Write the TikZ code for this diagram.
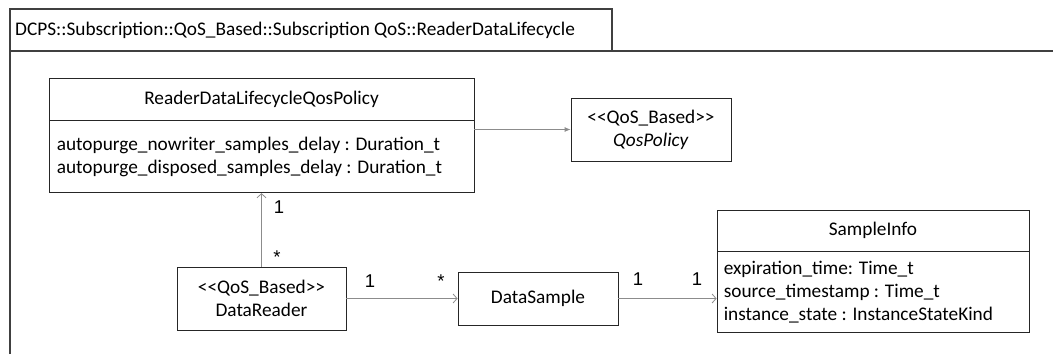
\documentclass[tikz,border=0pt]{standalone}
\usepackage{fontspec}
\setmainfont{Carlito}
\newfontfamily\multfont{Liberation Sans}
\usetikzlibrary{arrows.meta,positioning}

\tikzset{
  clase/.style={draw=black!85, line width=0.8pt, inner sep=0pt},
  texto/.style={font=\fontsize{19.3}{23}\selectfont, inner sep=0pt},
  asoc/.style={draw=black!45, line width=0.8pt, -{Straight Barb[length=4pt,width=9pt]}},
  herencia/.style={draw=black!45, line width=0.8pt, -{Latex[length=6pt,width=5pt]}},
  mult/.style={font=\multfont\fontsize{18.5}{20}\selectfont, inner sep=0pt, anchor=base},
}

\begin{document}
\begin{tikzpicture}[x=1pt,y=-1pt]
  \useasboundingbox (0,0) rectangle (1053,354);

  % Marco del paquete
  \draw[black!75, line width=1.2pt] (10,354) -- (10,9) -- (612,9) -- (612,51);
  \draw[black!75, line width=1.2pt] (10,51) -- (1053,51);
  \node[texto, anchor=west] (paquete) at (15,30) {DCPS::Subscription::QoS\_Based::Subscription QoS::ReaderDataLifecycle};

  % Politica ReaderDataLifecycleQosPolicy
  \node[clase, texto, minimum width=425pt, minimum height=42pt] (rdlcab) at (261.5,99) {ReaderDataLifecycleQosPolicy};
  \node[clase, minimum width=425pt, minimum height=72pt, below=0pt of rdlcab] (rdlcuerpo) {};
  \node[texto, align=left, anchor=west] (rdlattr) at ([xshift=8pt]rdlcuerpo.west)
    {autopurge\_nowriter\_samples\_delay : Duration\_t\\autopurge\_disposed\_samples\_delay : Duration\_t};

  % Clases QosPolicy, DataReader y DataSample
  \node[clase, texto, align=center, minimum width=160pt, minimum height=63pt] (qos) at (651,129.5)
    {<{}<QoS\_Based>{}>\\\textit{QosPolicy}};
  \node[clase, texto, align=center, minimum width=169pt, minimum height=63pt] (lector) at (261.5,298.5)
    {<{}<QoS\_Based>{}>\\DataReader};
  \node[clase, texto, minimum width=160pt, minimum height=53pt] (muestra) at (538,298.5) {DataSample};

  % SampleInfo
  \node[clase, texto, minimum width=312pt, minimum height=41pt] (infocab) at (873,230.5) {SampleInfo};
  \node[clase, minimum width=312pt, minimum height=81pt, below=0pt of infocab] (infocuerpo) {};
  \node[texto, align=left, anchor=west] (infoattr) at ([xshift=7pt]infocuerpo.west)
    {expiration\_time: Time\_t\\source\_timestamp : Time\_t\\instance\_state : InstanceStateKind};

  % Relaciones
  \draw[herencia] (rdlcuerpo.east |- qos.west) -- (qos.west);
  \draw[asoc] (lector.north) -- (lector.north |- rdlcuerpo.south);
  \draw[asoc] (lector.east) -- (muestra.west);
  \draw[asoc] (muestra.east) -- (muestra.east -| infocuerpo.west);

  % Multiplicidades
  \node[mult] (m1) at (279,213) {1};
  \node[mult] (m2) at (277,263) {*};
  \node[mult] (m3) at (370,287) {1};
  \node[mult] (m4) at (441,287) {*};
  \node[mult] (m5) at (638,285) {1};
  \node[mult] (m6) at (697,285) {1};
\end{tikzpicture}
\end{document}
